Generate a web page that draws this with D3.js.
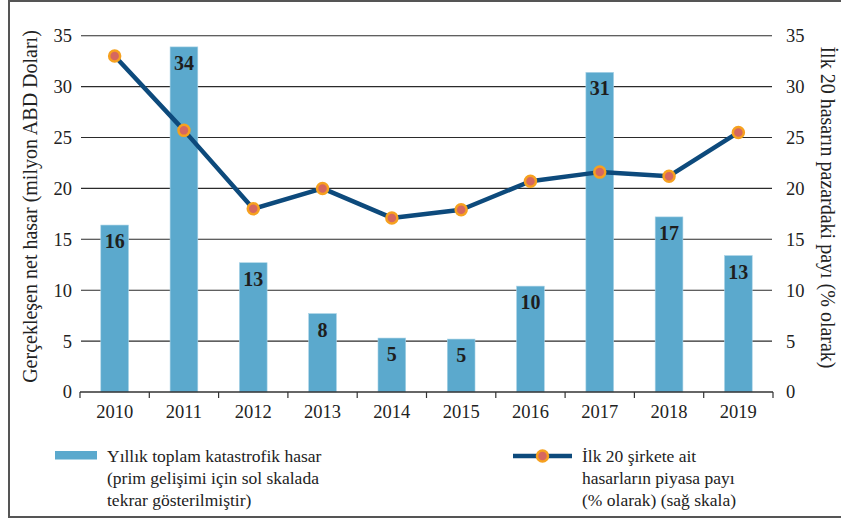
<!DOCTYPE html>
<html>
<head>
<meta charset="utf-8">
<script src="https://cdn.jsdelivr.net/npm/d3@7/dist/d3.min.js"></script>
<style>
  html, body { margin: 0; padding: 0; background: #fff; }
  svg { display: block; font-family: "Liberation Serif", "Times New Roman", serif; }
</style>
</head>
<body>
<svg id="chart" width="841" height="520"></svg>
<script>
// Years on the category axis
const years = ["2010", "2011", "2012", "2013", "2014", "2015", "2016", "2017", "2018", "2019"];
// Annual total catastrophe loss (left scale)
const lossValues = [16.4, 33.9, 12.7, 7.7, 5.3, 5.2, 10.4, 31.4, 17.2, 13.4];
// Market share of top 20 losses, % (right scale)
const shareValues = [33.0, 25.7, 18.0, 20.0, 17.1, 17.9, 20.7, 21.6, 21.2, 25.5];
// Axis ticks shared by both scales
const yTicks = [0, 5, 10, 15, 20, 25, 30, 35];

const leftTitle = "Gerçekleşen net hasar (milyon ABD Doları)";
const rightTitle = "İlk 20 hasarın pazardaki payı (% olarak)";
const barLegend = ["Yıllık toplam katastrofik hasar", "(prim gelişimi için sol skalada", "tekrar gösterilmiştir)"];
const lineLegend = ["İlk 20 şirkete ait", "hasarların piyasa payı", "(% olarak) (sağ skala)"];

const svg = d3.select("#chart");
const plot = { left: 80, right: 773, top: 35.7, bottom: 392 };

const barColor = "#5ba9cd";
const lineColor = "#0d4a7c";
const markerFill = "#d6675f";
const markerStroke = "#f6a11f";

// Outer frame
svg.append("rect")
  .attr("x", 9).attr("y", 1)
  .attr("width", 850).attr("height", 516)
  .attr("fill", "none").attr("stroke", "#555").attr("stroke-width", 2);

const x = d3.scaleBand().domain(years).range([plot.left, plot.right]).paddingInner(0).paddingOuter(0);
const yL = d3.scaleLinear().domain([0, 35]).range([plot.bottom, plot.top]);
const yR = d3.scaleLinear().domain([0, 35]).range([plot.bottom, plot.top]);

// Horizontal gridlines
svg.append("g")
  .selectAll("line")
  .data(yTicks.filter(t => t > 0))
  .join("line")
  .attr("x1", plot.left + 1).attr("x2", plot.right - 1)
  .attr("y1", d => yL(d)).attr("y2", d => yL(d))
  .attr("stroke", "#2b2b2b").attr("stroke-width", 1.1);

// Bars
const barW = x.bandwidth() * 0.4;
svg.append("g")
  .selectAll("rect")
  .data(years.map((yr, i) => ({ yr, v: lossValues[i] })))
  .join("rect")
  .attr("x", d => x(d.yr) + (x.bandwidth() - barW) / 2)
  .attr("y", d => yL(d.v))
  .attr("width", barW)
  .attr("height", d => yL(0) - yL(d.v))
  .attr("fill", barColor)
  .attr("stroke", "#a9d3e6").attr("stroke-width", 0.6);

// Bar value labels
svg.append("g")
  .selectAll("text")
  .data(years.map((yr, i) => ({ yr, v: lossValues[i] })))
  .join("text")
  .attr("x", d => x(d.yr) + x.bandwidth() / 2)
  .attr("y", d => yL(d.v) + 23)
  .attr("text-anchor", "middle")
  .attr("font-weight", "bold")
  .attr("font-size", 20)
  .attr("fill", "#1e1e1e")
  .text(d => d3.format(".0f")(d.v));

// X axis with ticks at band boundaries
const xAxis = svg.append("g").attr("transform", `translate(0,${plot.bottom})`);
xAxis.append("line")
  .attr("x1", plot.left).attr("x2", plot.right)
  .attr("stroke", "#333").attr("stroke-width", 1.4);
const bounds = years.map(yr => x(yr)).concat([plot.right]);
xAxis.selectAll("line.tick")
  .data(bounds)
  .join("line")
  .attr("class", "tick")
  .attr("x1", d => d).attr("x2", d => d)
  .attr("y1", 0).attr("y2", 6)
  .attr("stroke", "#333").attr("stroke-width", 1.2);
xAxis.selectAll("text")
  .data(years)
  .join("text")
  .attr("x", d => x(d) + x.bandwidth() / 2)
  .attr("y", 26)
  .attr("text-anchor", "middle")
  .attr("font-size", 18.5)
  .attr("fill", "#222")
  .text(d => d);

// Left axis labels
svg.append("g")
  .selectAll("text")
  .data(yTicks)
  .join("text")
  .attr("x", 72)
  .attr("y", d => yL(d))
  .attr("dy", "0.35em")
  .attr("text-anchor", "end")
  .attr("font-size", 18.5)
  .attr("fill", "#222")
  .text(d => d);

// Right axis labels
svg.append("g")
  .selectAll("text")
  .data(yTicks)
  .join("text")
  .attr("x", 786)
  .attr("y", d => yR(d))
  .attr("dy", "0.35em")
  .attr("text-anchor", "start")
  .attr("font-size", 18.5)
  .attr("fill", "#222")
  .text(d => d);

// Axis titles
svg.append("text")
  .attr("transform", "translate(37,206.5) rotate(-90)")
  .attr("text-anchor", "middle")
  .attr("font-size", 20)
  .attr("fill", "#222")
  .text(leftTitle);

svg.append("text")
  .attr("transform", "translate(821,207.5) rotate(90)")
  .attr("text-anchor", "middle")
  .attr("font-size", 20)
  .attr("fill", "#222")
  .text(rightTitle);

// Share line
const lineGen = d3.line()
  .x((d, i) => x(years[i]) + x.bandwidth() / 2)
  .y(d => yR(d));
svg.append("path")
  .datum(shareValues)
  .attr("d", lineGen)
  .attr("fill", "none")
  .attr("stroke", lineColor)
  .attr("stroke-width", 4.5)
  .attr("stroke-linejoin", "round");

svg.append("g")
  .selectAll("circle")
  .data(shareValues)
  .join("circle")
  .attr("cx", (d, i) => x(years[i]) + x.bandwidth() / 2)
  .attr("cy", d => yR(d))
  .attr("r", 5.5)
  .attr("fill", markerFill)
  .attr("stroke", markerStroke)
  .attr("stroke-width", 2.5);

// Legend
const legend = svg.append("g");
legend.append("rect")
  .attr("x", 55).attr("y", 451).attr("width", 42).attr("height", 8.5)
  .attr("fill", barColor);
legend.append("text")
  .attr("font-size", 17.5).attr("fill", "#222")
  .selectAll("tspan")
  .data(barLegend)
  .join("tspan")
  .attr("x", 107)
  .attr("y", (d, i) => 461.5 + i * 22.2)
  .text(d => d);

legend.append("line")
  .attr("x1", 513).attr("x2", 572).attr("y1", 456).attr("y2", 456)
  .attr("stroke", lineColor).attr("stroke-width", 4.5);
legend.append("circle")
  .attr("cx", 542.5).attr("cy", 456).attr("r", 5.5)
  .attr("fill", markerFill).attr("stroke", markerStroke).attr("stroke-width", 2.5);
legend.append("text")
  .attr("font-size", 17.5).attr("fill", "#222")
  .selectAll("tspan")
  .data(lineLegend)
  .join("tspan")
  .attr("x", 582)
  .attr("y", (d, i) => 461.5 + i * 22.2)
  .text(d => d);
</script>
</body>
</html>
